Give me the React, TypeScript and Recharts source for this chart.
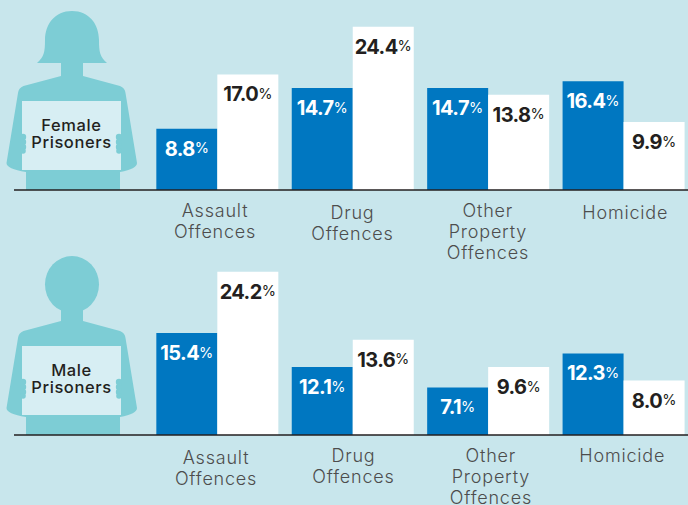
import { BarChart, Bar, XAxis, YAxis, LabelList } from 'recharts';

const categories = ['Assault Offences', 'Drug Offences', 'Other Property Offences', 'Homicide'];

// printed percentages
const femaleBlueLabels = ['8.8', '14.7', '14.7', '16.4'];
const femaleWhiteLabels = ['17.0', '24.4', '13.8', '9.9'];
const maleBlueLabels = ['15.4', '12.1', '7.1', '12.3'];
const maleWhiteLabels = ['24.2', '13.6', '9.6', '8.0'];

// the bars in the picture are not drawn to the printed numbers, these are their read heights
const femaleBlueHeights = [9, 15, 15, 16];
const femaleWhiteHeights = [17, 24, 14, 10];
const maleBlueHeights = [15, 10, 7, 12];
const maleWhiteHeights = [24, 14, 10, 8];

const tickLines = [['Assault', 'Offences'], ['Drug', 'Offences'], ['Other', 'Property', 'Offences'], ['Homicide']];

const FONT = 'Inter, sans-serif';
const TEXT = '#231f20';
const SILHOUETTE = '#7dcdd5';

function buildRows(blue: number[], white: number[], blueLabels: string[], whiteLabels: string[]) {
  return categories.map((name, i) => ({
    name,
    blue: blue[i],
    white: white[i],
    blueLabel: blueLabels[i],
    whiteLabel: whiteLabels[i],
  }));
}

const ValueLabel = ({ x, y, width, value, fill }: any) => (
  <text x={x + width / 2} y={y + 27} textAnchor="middle" fill={fill} fontFamily={FONT}>
    <tspan fontSize={20} fontWeight={700} letterSpacing={-0.6}>{value}</tspan>
    <tspan fontSize={14.5} fontWeight={400} dy={-2.5}>%</tspan>
  </text>
);

function makeTick(shiftX: number[], shiftY: number[]) {
  return ({ x, y, index }: any) => (
    <text textAnchor="middle" fill="#4d4d4d" fontFamily={FONT} fontSize={18} fontWeight={300} letterSpacing={0.8}>
      {tickLines[index].map((line, i) => (
        <tspan key={line} x={x + shiftX[index]} y={y + shiftY[index] + i * 21}>
          {line}
        </tspan>
      ))}
    </text>
  );
}

function Panel({ rows, top, tick }: any) {
  return (
    <div style={{ position: 'absolute', left: 0, top }}>
      <BarChart
        width={691}
        height={290}
        data={rows}
        margin={{ top: 20, right: 0, bottom: 0, left: 14 }}
        barSize={61}
        barGap={0}
      >
        <YAxis hide domain={[0, 25]} />
        <XAxis
          dataKey="name"
          height={100}
          padding={{ left: 135.33, right: 0 }}
          axisLine={{ stroke: TEXT, strokeWidth: 1.5 }}
          tickLine={false}
          interval={0}
          tick={tick}
        />
        <Bar dataKey="blue" fill="#0077c1" isAnimationActive={false}>
          <LabelList dataKey="blueLabel" content={(p: any) => <ValueLabel {...p} fill="#ffffff" />} />
        </Bar>
        <Bar dataKey="white" fill="#ffffff" isAnimationActive={false}>
          <LabelList dataKey="whiteLabel" content={(p: any) => <ValueLabel {...p} fill={TEXT} />} />
        </Bar>
      </BarChart>
    </div>
  );
}

const BODY =
  'M61 60 H83 V76 L120 86 Q125 88 125.5 93 L137 163 Q137 169 120 172 V190 H26 V172 Q6.5 169 6.5 163 L18 93 Q18.5 88 23.5 86 L61 76 Z';
const FEMALE_HAIR = 'M72 11 C55 11 45 24 45 40 C45 52 44 57 37 63 H107 C100 57 99 52 99 40 C99 24 89 11 72 11 Z';

function Hand({ x }: { x: number }) {
  return (
    <g fill={SILHOUETTE}>
      <circle cx={x} cy={137} r={3.2} />
      <circle cx={x} cy={142} r={3.2} />
      <circle cx={x} cy={147} r={3.2} />
      <circle cx={x} cy={151} r={2.8} />
    </g>
  );
}

function Figure({ dy, lines, female }: { dy: number; lines: string[]; female: boolean }) {
  return (
    <g transform={`translate(0 ${dy})`}>
      {female ? <path d={FEMALE_HAIR} fill={SILHOUETTE} /> : <ellipse cx={72} cy={39.5} rx={27} ry={28.5} fill={SILHOUETTE} />}
      <path d={BODY} fill={SILHOUETTE} />
      <rect x={22} y={101} width={99} height={69} fill="#d7eef3" />
      <Hand x={23} />
      <Hand x={119} />
      <text textAnchor="middle" fill={TEXT} fontFamily={FONT} fontSize={16.5} fontWeight={500} letterSpacing={0.6}>
        {lines.map((line, i) => (
          <tspan key={line} x={71.5} y={131 + i * 17}>{line}</tspan>
        ))}
      </text>
    </g>
  );
}

const femaleRows = buildRows(femaleBlueHeights, femaleWhiteHeights, femaleBlueLabels, femaleWhiteLabels);
const maleRows = buildRows(maleBlueHeights, maleWhiteHeights, maleBlueLabels, maleWhiteLabels);

export default function App() {
  return (
    <div
      style={{
        position: 'absolute',
        left: 0,
        top: 0,
        width: 688,
        height: 505,
        overflow: 'hidden',
        background: '#c8e6ec',
      }}
    >
      <svg width={688} height={505} style={{ position: 'absolute', left: 0, top: 0 }}>
        <Figure dy={0} lines={['Female', 'Prisoners']} female />
        <Figure dy={245} lines={['Male', 'Prisoners']} female={false} />
      </svg>
      <Panel rows={femaleRows} top={0} tick={makeTick([-2, 0, 0, 2], [19, 21, 19, 21])} />
      <Panel rows={maleRows} top={245} tick={makeTick([-1, 1, 3, -1], [21, 19, 19, 19])} />
    </div>
  );
}
